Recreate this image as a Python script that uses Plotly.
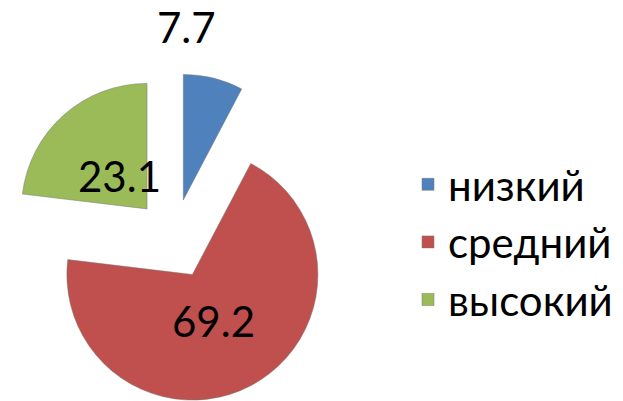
import plotly.graph_objects as go

labels = ["низкий", "средний", "высокий"]
values = [7.7, 69.2, 23.1]
colors = ["#4F81BD", "#C0504D", "#9BBB59"]

W, H = 623, 401
FONT = "Lato"

# label anchor positions (paper pixels from top-left)
label_pos = [(178, 19), (205, 313), (111, 168)]

fig = go.Figure()
fig.add_trace(go.Pie(
    labels=labels,
    values=values,
    sort=False,
    direction="clockwise",
    rotation=0,
    pull=[0.32, 0.32, 0.32],
    marker=dict(colors=colors, line=dict(color="rgba(120,120,120,0.5)", width=1)),
    textposition="none",
    domain=dict(x=[0, 331.4 / W], y=[2.0 / H, 338.0 / H]),
    hoverinfo="label+value",
))

for v, (px, py) in zip(values, label_pos):
    fig.add_annotation(
        text=f"{v}", x=px / W, y=1 - py / H, xref="paper", yref="paper",
        xanchor="center", yanchor="middle", showarrow=False,
        font=dict(family=FONT, size=42, color="black"),
    )

fig.update_layout(
    width=W, height=H,
    margin=dict(l=0, r=0, t=0, b=0),
    paper_bgcolor="white",
    plot_bgcolor="white",
    showlegend=True,
    legend=dict(
        x=400 / W, y=1 - 234 / H, xanchor="left", yanchor="middle",
        font=dict(family=FONT, size=42, color="black"),
        bgcolor="rgba(0,0,0,0)",
    ),
)

fig.write_html("out.html")
